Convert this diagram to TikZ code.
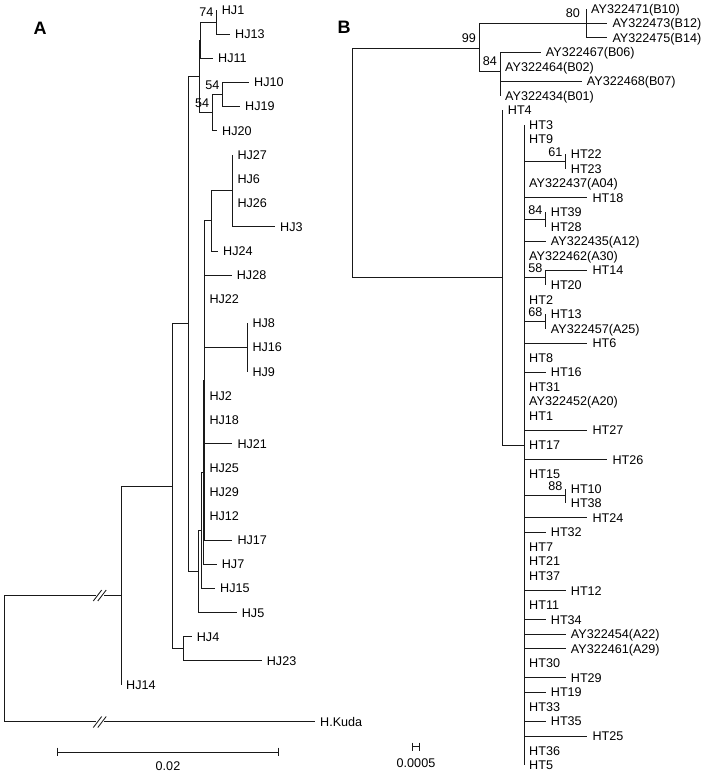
\documentclass[tikz,border=0pt]{standalone}
\usepackage{fontspec}
\setmainfont{Liberation Sans}
\usetikzlibrary{positioning}

\begin{document}
\begin{tikzpicture}[
  x=1pt, y=-1pt,
  leaf/.style={anchor=west, inner xsep=5pt, inner ysep=1pt, font=\fontsize{12.6}{14}\selectfont, text height=9pt, text depth=0pt},
  boot/.style={anchor=south east, inner sep=1pt, xshift=-2pt, yshift=4pt, font=\fontsize{12.6}{14}\selectfont, text height=9pt, text depth=0pt},
  panel/.style={font=\fontsize{18}{20}\selectfont\bfseries, inner sep=0pt},
  sclabel/.style={font=\fontsize{12.6}{14}\selectfont, inner sep=0pt},
  branch/.style={line width=0.85pt, black!90},
  cut/.style={line width=0.85pt, black!90}
]
\useasboundingbox (0,0) rectangle (706,774);

% Panel letters
\node[panel] (PanA) at (40,28.7) {A};
\node[panel] (PanB) at (344,27) {B};

% ---------------- Tree A: tips
\node[leaf] (HJ1)   at (216.7,10)    {HJ1};
\node[leaf] (HJ13)  at (230,34.1)    {HJ13};
\node[leaf] (HJ11)  at (213,58.2)    {HJ11};
\node[leaf] (HJ10)  at (249,82.3)    {HJ10};
\node[leaf] (HJ19)  at (240,106.4)   {HJ19};
\node[leaf] (HJ20)  at (217,130.5)   {HJ20};
\node[leaf] (HJ27)  at (232.3,154.6) {HJ27};
\node[leaf] (HJ6)   at (232.3,178.7) {HJ6};
\node[leaf] (HJ26)  at (232.3,202.8) {HJ26};
\node[leaf] (HJ3)   at (275,226.9)   {HJ3};
\node[leaf] (HJ24)  at (218,251)     {HJ24};
\node[leaf] (HJ28)  at (231.7,275.1) {HJ28};
\node[leaf] (HJ22)  at (204.3,299.2) {HJ22};
\node[leaf] (HJ8)   at (247.3,323.3) {HJ8};
\node[leaf] (HJ16)  at (247.3,347.4) {HJ16};
\node[leaf] (HJ9)   at (247.3,371.5) {HJ9};
\node[leaf] (HJ2)   at (204.3,395.6) {HJ2};
\node[leaf] (HJ18)  at (204.3,419.7) {HJ18};
\node[leaf] (HJ21)  at (232.3,443.8) {HJ21};
\node[leaf] (HJ25)  at (204.3,467.9) {HJ25};
\node[leaf] (HJ29)  at (204.3,492)   {HJ29};
\node[leaf] (HJ12)  at (204.3,516.1) {HJ12};
\node[leaf] (HJ17)  at (232.3,540.2) {HJ17};
\node[leaf] (HJ7)   at (216.7,564.3) {HJ7};
\node[leaf] (HJ15)  at (215,588.4)   {HJ15};
\node[leaf] (HJ5)   at (236.7,612.5) {HJ5};
\node[leaf] (HJ4)   at (191.7,636.6) {HJ4};
\node[leaf] (HJ23)  at (261.7,660.7) {HJ23};
\node[leaf] (HJ14)  at (121,684.8)   {HJ14};
\node[leaf] (HKuda) at (315,721.5)   {H.Kuda};

% Tree A: internal nodes
\coordinate (nA1)  at (216.7,22.05);
\coordinate (nA2)  at (200.5,40.1);
\coordinate (nA3)  at (222.7,94.35);
\coordinate (nA4)  at (212.3,112.4);
\coordinate (nA5)  at (199.5,76.3);
\coordinate (nA6)  at (232.3,190.75);
\coordinate (nA7)  at (211,220.9);
\coordinate (nA8)  at (247.3,347.4);
\coordinate (nA9)  at (204.3,380.5);
\coordinate (nA10) at (203.3,472.4);
\coordinate (nA11) at (201.7,530.4);
\coordinate (nA12) at (198.3,571.5);
\coordinate (nA13) at (188,323.9);
\coordinate (nA14) at (183.3,648.65);
\coordinate (nA15) at (172.3,486.3);
\coordinate (nA16) at (121,595);
\coordinate (nA0)  at (4,658);
% break marks on the two long root branches
\coordinate (CutA1) at (96,595);
\coordinate (CutA2) at (104,595);
\coordinate (CutA3) at (96,721.5);
\coordinate (CutA4) at (104,721.5);

% Tree A: branches
\draw[branch] (nA1) |- (HJ1.west) (nA1) |- (HJ13.west);
\draw[branch] (nA2) |- (nA1) (nA2) |- (HJ11.west);
\draw[branch] (nA3) |- (HJ10.west) (nA3) |- (HJ19.west);
\draw[branch] (nA4) |- (nA3) (nA4) |- (HJ20.west);
\draw[branch] (nA5) |- (nA2) (nA5) |- (nA4);
\draw[branch] (nA6) |- (HJ27.west) (nA6) |- (HJ6.west) (nA6) |- (HJ26.west) (nA6) |- (HJ3.west);
\draw[branch] (nA7) |- (nA6) (nA7) |- (HJ24.west);
\draw[branch] (nA8) |- (HJ8.west) (nA8) |- (HJ9.west);
\draw[branch] (nA9) |- (nA7) (nA9) |- (HJ28.west) (nA9) |- (HJ22.west) (nA9) |- (nA8)
              (nA9) |- (HJ2.west) (nA9) |- (HJ18.west) (nA9) |- (HJ21.west) (nA9) |- (HJ25.west)
              (nA9) |- (HJ29.west) (nA9) |- (HJ12.west) (nA9) |- (HJ17.west);
\draw[branch] (nA10) |- (nA9) (nA10) |- (HJ7.west);
\draw[branch] (nA11) |- (nA10) (nA11) |- (HJ15.west);
\draw[branch] (nA12) |- (nA11) (nA12) |- (HJ5.west);
\draw[branch] (nA13) |- (nA5) (nA13) |- (nA12);
\draw[branch] (nA14) |- (HJ4.west) (nA14) |- (HJ23.west);
\draw[branch] (nA15) |- (nA13) (nA15) |- (nA14);
\draw[branch] (nA16) |- (nA15) (nA16) |- (HJ14.west);
\draw[branch] (nA0) |- (CutA1) (CutA2) -- (nA16);
\draw[branch] (nA0) |- (CutA3) (CutA4) -- (HKuda.west);
\draw[cut] ([shift={(-2.7pt,-6pt)}]CutA1) -- ++(8.4pt,11pt);
\draw[cut] ([shift={(-6.2pt,-6pt)}]CutA2) -- ++(8.4pt,11pt);
\draw[cut] ([shift={(-2.7pt,-6pt)}]CutA3) -- ++(8.4pt,11pt);
\draw[cut] ([shift={(-6.2pt,-6pt)}]CutA4) -- ++(8.4pt,11pt);

% Tree A: bootstrap values
\node[boot] (BsA1) at (nA1) {74};
\node[boot] (BsA3) at (nA3) {54};
\node[boot] (BsA4) at (nA4) {54};

% Tree A: scale bar
\coordinate (SbA1) at (57,752);
\coordinate (SbA2) at (278,752);
\draw[branch] (SbA1) -- (SbA2);
\draw[branch] ([yshift=4.3pt]SbA1) -- ([yshift=-4.3pt]SbA1);
\draw[branch] ([yshift=4.3pt]SbA2) -- ([yshift=-4.3pt]SbA2);
\node[sclabel] (SbLabA) at (168,766) {0.02};

% ---------------- Tree B: tips
\node[leaf] (B10)  at (586,8.5)      {AY322471(B10)};
\node[leaf] (B12)  at (607.3,23.05)  {AY322473(B12)};
\node[leaf] (B14)  at (607.3,37.6)   {AY322475(B14)};
\node[leaf] (B06)  at (540.7,52.15)  {AY322467(B06)};
\node[leaf] (B02)  at (500,66.7)     {AY322464(B02)};
\node[leaf] (B07)  at (581.7,81.25)  {AY322468(B07)};
\node[leaf] (B01)  at (500,95.8)     {AY322434(B01)};
\node[leaf] (HT4)  at (502.7,110.35) {HT4};
\node[leaf] (HT3)  at (524,124.9)    {HT3};
\node[leaf] (HT9)  at (524,139.45)   {HT9};
\node[leaf] (HT22) at (565.7,154)    {HT22};
\node[leaf] (HT23) at (565.7,168.55) {HT23};
\node[leaf] (A04)  at (524,183.1)    {AY322437(A04)};
\node[leaf] (HT18) at (587.3,197.65) {HT18};
\node[leaf] (HT39) at (545.7,212.2)  {HT39};
\node[leaf] (HT28) at (545.7,226.75) {HT28};
\node[leaf] (A12)  at (545.7,241.3)  {AY322435(A12)};
\node[leaf] (A30)  at (524,255.85)   {AY322462(A30)};
\node[leaf] (HT14) at (587.3,270.4)  {HT14};
\node[leaf] (HT20) at (545.7,284.95) {HT20};
\node[leaf] (HT2)  at (524,299.5)    {HT2};
\node[leaf] (HT13) at (545.7,314.05) {HT13};
\node[leaf] (A25)  at (545.7,328.6)  {AY322457(A25)};
\node[leaf] (HT6)  at (587.3,343.15) {HT6};
\node[leaf] (HT8)  at (524,357.7)    {HT8};
\node[leaf] (HT16) at (545.7,372.25) {HT16};
\node[leaf] (HT31) at (524,386.8)    {HT31};
\node[leaf] (A20)  at (524,401.35)   {AY322452(A20)};
\node[leaf] (HT1)  at (524,415.9)    {HT1};
\node[leaf] (HT27) at (587.3,430.45) {HT27};
\node[leaf] (HT17) at (524,445)      {HT17};
\node[leaf] (HT26) at (607.3,459.55) {HT26};
\node[leaf] (HT15) at (524,474.1)    {HT15};
\node[leaf] (HT10) at (565.7,488.65) {HT10};
\node[leaf] (HT38) at (565.7,503.2)  {HT38};
\node[leaf] (HT24) at (587.3,517.75) {HT24};
\node[leaf] (HT32) at (545.7,532.3)  {HT32};
\node[leaf] (HT7)  at (524,546.85)   {HT7};
\node[leaf] (HT21) at (524,561.4)    {HT21};
\node[leaf] (HT37) at (524,575.95)   {HT37};
\node[leaf] (HT12) at (565.7,590.5)  {HT12};
\node[leaf] (HT11) at (524,605.05)   {HT11};
\node[leaf] (HT34) at (545.7,619.6)  {HT34};
\node[leaf] (A22)  at (565.7,634.15) {AY322454(A22)};
\node[leaf] (A29)  at (565.7,648.7)  {AY322461(A29)};
\node[leaf] (HT30) at (524,663.25)   {HT30};
\node[leaf] (HT29) at (565.7,677.8)  {HT29};
\node[leaf] (HT19) at (545.7,692.35) {HT19};
\node[leaf] (HT33) at (524,706.9)    {HT33};
\node[leaf] (HT35) at (545.7,721.45) {HT35};
\node[leaf] (HT25) at (587.3,736)    {HT25};
\node[leaf] (HT36) at (524,750.55)   {HT36};
\node[leaf] (HT5)  at (524,765.1)    {HT5};

% Tree B: internal nodes
\coordinate (nB1)  at (586,23.05);
\coordinate (nB2)  at (500,71);
\coordinate (nB3)  at (479,48);
\coordinate (nB4)  at (565.7,161.3);
\coordinate (nB5)  at (545.7,219.5);
\coordinate (nB6)  at (545.7,277.7);
\coordinate (nB7)  at (545.7,321.3);
\coordinate (nB8)  at (565.7,495.9);
\coordinate (nB9)  at (524,445);
\coordinate (nB10) at (502.7,277.7);
\coordinate (nB0)  at (352.7,163);

% Tree B: branches
\draw[branch] (nB1) |- (B10.west) (nB1) |- (B12.west) (nB1) |- (B14.west);
\draw[branch] (nB2) |- (B06.west) (nB2) |- (B02.west) (nB2) |- (B07.west) (nB2) |- (B01.west);
\draw[branch] (nB3) |- (nB1) (nB3) |- (nB2);
\draw[branch] (nB4) |- (HT22.west) (nB4) |- (HT23.west);
\draw[branch] (nB5) |- (HT39.west) (nB5) |- (HT28.west);
\draw[branch] (nB6) |- (HT14.west) (nB6) |- (HT20.west);
\draw[branch] (nB7) |- (HT13.west) (nB7) |- (A25.west);
\draw[branch] (nB8) |- (HT10.west) (nB8) |- (HT38.west);
\draw[branch] (nB9) |- (HT3.west) (nB9) |- (HT9.west) (nB9) |- (nB4) (nB9) |- (A04.west)
              (nB9) |- (HT18.west) (nB9) |- (nB5) (nB9) |- (A12.west) (nB9) |- (A30.west)
              (nB9) |- (nB6) (nB9) |- (HT2.west) (nB9) |- (nB7) (nB9) |- (HT6.west)
              (nB9) |- (HT8.west) (nB9) |- (HT16.west) (nB9) |- (HT31.west) (nB9) |- (A20.west)
              (nB9) |- (HT1.west) (nB9) |- (HT27.west) (nB9) |- (HT17.west) (nB9) |- (HT26.west)
              (nB9) |- (HT15.west) (nB9) |- (nB8) (nB9) |- (HT24.west) (nB9) |- (HT32.west)
              (nB9) |- (HT7.west) (nB9) |- (HT21.west) (nB9) |- (HT37.west) (nB9) |- (HT12.west)
              (nB9) |- (HT11.west) (nB9) |- (HT34.west) (nB9) |- (A22.west) (nB9) |- (A29.west)
              (nB9) |- (HT30.west) (nB9) |- (HT29.west) (nB9) |- (HT19.west) (nB9) |- (HT33.west)
              (nB9) |- (HT35.west) (nB9) |- (HT25.west) (nB9) |- (HT36.west) (nB9) |- (HT5.west);
\draw[branch] (nB10) |- (HT4.west) (nB10) |- (nB9);
\draw[branch] (nB0) |- (nB3) (nB0) |- (nB10);

% Tree B: bootstrap values
\node[boot, xshift=-3pt] (BsB1) at (nB1) {80};
\node[boot] (BsB3) at (nB3) {99};
\node[boot] (BsB2) at (nB2) {84};
\node[boot] (BsB4) at (nB4) {61};
\node[boot] (BsB5) at (nB5) {84};
\node[boot] (BsB6) at (nB6) {58};
\node[boot] (BsB7) at (nB7) {68};
\node[boot] (BsB8) at (nB8) {88};

% Tree B: scale bar
\coordinate (SbB1) at (412.3,746.7);
\coordinate (SbB2) at (419.3,746.7);
\draw[branch] (SbB1) -- (SbB2);
\draw[branch] ([yshift=4pt]SbB1) -- ([yshift=-4pt]SbB1);
\draw[branch] ([yshift=4pt]SbB2) -- ([yshift=-4pt]SbB2);
\node[sclabel] (SbLabB) at (416,763) {0.0005};

\end{tikzpicture}
\end{document}
